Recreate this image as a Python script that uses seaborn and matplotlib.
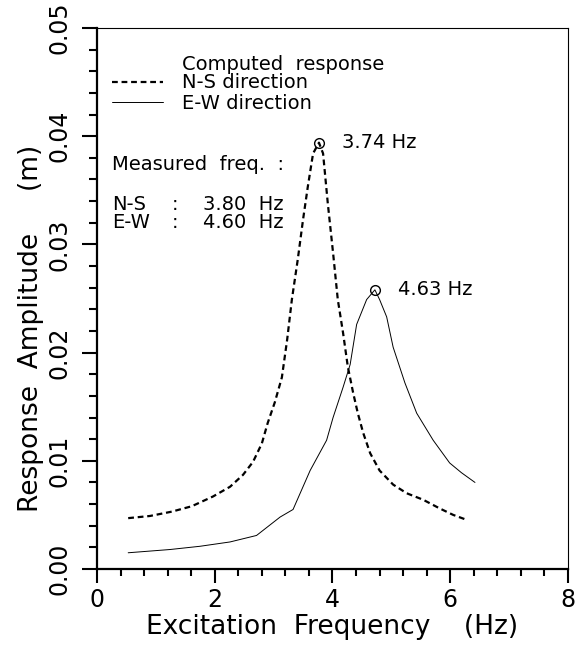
"""Computed response spectrum, N-S vs E-W direction"""

import matplotlib
matplotlib.use("Agg")
import matplotlib.pyplot as plt
from matplotlib.ticker import MultipleLocator, FormatStrFormatter
import numpy as np
import seaborn as sns

# N-S direction (dashed)
ns_freq = [0.53, 0.90, 1.27, 1.61, 1.97, 2.26, 2.48, 2.65, 2.80, 2.90, 3.02, 3.14,
           3.23, 3.31, 3.41, 3.50, 3.58, 3.67, 3.77, 3.84, 3.92, 4.01, 4.09, 4.18,
           4.26, 4.35, 4.43, 4.52, 4.64, 4.80, 5.03, 5.26, 5.54, 5.82, 6.05, 6.25]
ns_amp = [0.0047, 0.0049, 0.0053, 0.0058, 0.0067, 0.0076, 0.0087, 0.0099, 0.0116, 0.0135,
          0.0154, 0.0177, 0.0212, 0.0249, 0.0286, 0.0323, 0.0353, 0.0384, 0.0394, 0.0384,
          0.0338, 0.0292, 0.0249, 0.0218, 0.0187, 0.0163, 0.0144, 0.0126, 0.0107, 0.0091,
          0.0078, 0.0070, 0.0064, 0.0056, 0.0050, 0.0046]

# E-W direction (solid)
ew_freq = [0.53, 1.24, 1.75, 2.26, 2.71, 3.11, 3.33, 3.62, 3.90, 4.01, 4.18, 4.30,
           4.41, 4.58, 4.72, 4.80, 4.92, 5.03, 5.23, 5.43, 5.71, 5.99, 6.19, 6.42]
ew_amp = [0.0015, 0.0018, 0.0021, 0.0025, 0.0031, 0.0048, 0.0055, 0.0091, 0.0119, 0.0140,
          0.0168, 0.0189, 0.0226, 0.0249, 0.0258, 0.0249, 0.0233, 0.0205, 0.0172, 0.0144,
          0.0119, 0.0098, 0.0089, 0.0080]

peak_labels = ["3.74 Hz", "4.63 Hz"]
measured_names = ["N-S", "E-W"]
measured_values = ["3.80  Hz", "4.60  Hz"]

sns.set_theme(style="ticks")
plt.rcParams['font.family'] = ['DejaVu Sans']
plt.rcParams['text.color'] = 'black'

fig = plt.figure(figsize=(5.78, 6.46), dpi=100)
ax = fig.add_axes([0.1678, 0.1192, 0.8149, 0.8375])

sns.lineplot(x=ns_freq, y=ns_amp, ax=ax, color='black', lw=1.6, sort=False,
             linestyle=(0, (2.6, 1.7)), errorbar=None, label='N-S direction')
sns.lineplot(x=ew_freq, y=ew_amp, ax=ax, color='black', lw=0.7, sort=False,
             errorbar=None, label='E-W direction')

# peak markers with their frequency labels
for freq, amp, txt in [(ns_freq, ns_amp, peak_labels[0]), (ew_freq, ew_amp, peak_labels[1])]:
    i = int(np.argmax(amp))
    ax.plot(freq[i], amp[i], marker='o', ms=7, mfc='none', mec='black', mew=1.0)
    ax.annotate(txt, (freq[i], amp[i]), xytext=(16.5, 0), textcoords='offset points',
                va='center', ha='left', fontsize=14)

ax.set_xlim(0, 8)
ax.set_ylim(0, 0.05)
ax.xaxis.set_major_locator(MultipleLocator(2))
ax.xaxis.set_minor_locator(MultipleLocator(0.4))
ax.yaxis.set_major_locator(MultipleLocator(0.01))
ax.yaxis.set_minor_locator(MultipleLocator(0.002))
ax.yaxis.set_major_formatter(FormatStrFormatter('%.2f'))
ax.xaxis.set_major_formatter(FormatStrFormatter('%d'))

ax.tick_params(axis='both', which='major', direction='out', width=1.5, color='black',
               labelsize=17, labelcolor='black')
ax.tick_params(axis='x', which='major', length=10, pad=4)
ax.tick_params(axis='x', which='minor', length=5, width=1.5, direction='out', color='black')
ax.tick_params(axis='y', which='major', length=11, pad=7, labelrotation=90)
ax.tick_params(axis='y', which='minor', length=6, width=1.5, direction='out', color='black')
for lab in ax.get_yticklabels():
    lab.set_va('center')

for side in ['left', 'bottom']:
    ax.spines[side].set_linewidth(1.6)
for side in ['top', 'right']:
    ax.spines[side].set_linewidth(0.8)
for sp in ax.spines.values():
    sp.set_color('black')

ax.set_xlabel('Excitation  Frequency    (Hz)', fontsize=19, color='black')
ax.set_ylabel('Response  Amplitude     (m)', fontsize=19, color='black')
ax.xaxis.set_label_coords(0.5, -0.083)
ax.yaxis.set_label_coords(-0.112, 0.444)

# legend block
ax.text(1.444, 0.0466, 'Computed  response', fontsize=14, va='center', ha='left')
ax.legend(loc='upper left', bbox_to_anchor=(0.255, 0.0458), bbox_transform=ax.transData,
          frameon=False, fontsize=14, handlelength=2.63, handletextpad=0.98,
          labelspacing=0.07, borderpad=0, borderaxespad=0)

# measured frequencies
ax.text(0.255, 0.03734, 'Measured  freq.  :', fontsize=14, va='center', ha='left')
for k, (name, val) in enumerate(zip(measured_names, measured_values)):
    y = 0.03373 - k * 0.00175
    ax.text(0.255, y, name, fontsize=14, va='center', ha='left')
    ax.text(1.27, y, ':', fontsize=14, va='center', ha='left')
    ax.text(1.80, y, val, fontsize=14, va='center', ha='left')

fig.savefig('out.png', dpi=100, facecolor='white')
